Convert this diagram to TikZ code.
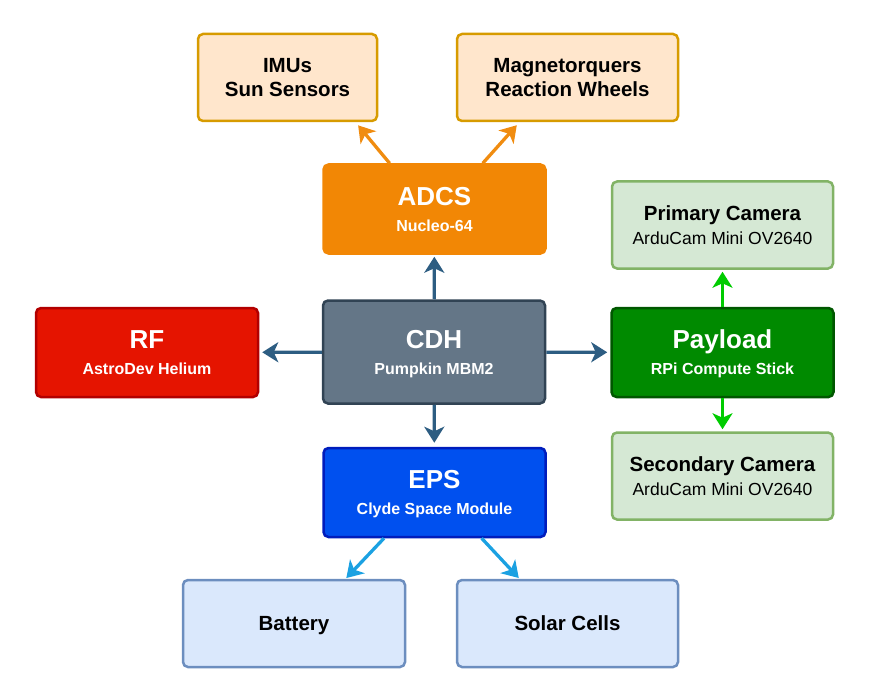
\documentclass[tikz,border=0pt]{standalone}
\usepackage{fontspec}
\setmainfont{Liberation Sans}
\usetikzlibrary{calc,arrows.meta}

\definecolor{leaforange}{HTML}{FFE6CC}
\definecolor{leaforangeline}{HTML}{D79B00}
\definecolor{adcsfill}{HTML}{F28705}
\definecolor{cdhfill}{HTML}{647687}
\definecolor{cdhline}{HTML}{314354}
\definecolor{rffill}{HTML}{E51400}
\definecolor{rfline}{HTML}{B20000}
\definecolor{payfill}{HTML}{008A00}
\definecolor{payline}{HTML}{005700}
\definecolor{epsfill}{HTML}{0050EF}
\definecolor{epsline}{HTML}{001DBC}
\definecolor{leafgreen}{HTML}{D5E8D4}
\definecolor{leafgreenline}{HTML}{82B366}
\definecolor{leafblue}{HTML}{DAE8FC}
\definecolor{leafblueline}{HTML}{6C8EBF}
\definecolor{busarrow}{HTML}{2D5D82}
\definecolor{adcsarrow}{HTML}{F08C10}
\definecolor{payarrow}{HTML}{00CC00}
\definecolor{epsarrow}{HTML}{1BA1E2}

\begin{document}
\begin{tikzpicture}[x=1pt,y=-1pt,
  box/.style={draw,rounded corners=5pt,line width=2.5pt,align=center,inner sep=0pt},
  subsys/.style={box,text=white,minimum width=222pt,minimum height=89pt,
    text depth=-1pt,font=\fontsize{16}{26}\selectfont\bfseries},
  leafbox/.style={box,minimum height=87pt,font=\fontsize{20.5}{24}\selectfont\bfseries},
  cambox/.style={box,fill=leafgreen,draw=leafgreenline,minimum width=221pt,
    minimum height=87pt,font=\fontsize{17.5}{24}\selectfont},
  link/.style={line width=3.3pt,-{Stealth[length=16pt,width=20pt,inset=4.5pt]}}]
\useasboundingbox (0,0) rectangle (884,698);

% subsystems
\node[subsys,fill=adcsfill,draw=adcsfill] (adcs) at (434.5,209) {{\fontsize{26}{26}\selectfont ADCS}\\Nucleo-64};
\node[subsys,fill=cdhfill,draw=cdhline,minimum height=103pt] (cdh) at (434,352) {{\fontsize{26}{26}\selectfont CDH}\\Pumpkin MBM2};
\node[subsys,fill=rffill,draw=rfline] (rf) at (147,352.5) {{\fontsize{26}{26}\selectfont RF}\\AstroDev Helium};
\node[subsys,fill=payfill,draw=payline] (pay) at (722.5,352.5) {{\fontsize{26}{26}\selectfont Payload}\\RPi Compute Stick};
\node[subsys,fill=epsfill,draw=epsline] (eps) at (434.5,492.5) {{\fontsize{26}{26}\selectfont EPS}\\Clyde Space Module};

% attached hardware
\node[leafbox,fill=leaforange,draw=leaforangeline,minimum width=179pt] (imu) at (287.5,77.5) {IMUs\\Sun Sensors};
\node[leafbox,fill=leaforange,draw=leaforangeline,minimum width=221pt] (mag) at (567.5,77.5) {Magnetorquers\\Reaction Wheels};
\node[cambox] (cam1) at (722.5,225) {{\fontsize{20.5}{24}\selectfont\bfseries Primary Camera}\\ArduCam Mini OV2640};
\node[cambox] (cam2) at (722.5,476) {{\fontsize{20.5}{24}\selectfont\bfseries Secondary Camera}\\ArduCam Mini OV2640};
\node[leafbox,fill=leafblue,draw=leafblueline,minimum width=222pt,text depth=0pt] (bat) at (294,623.5) {Battery};
\node[leafbox,fill=leafblue,draw=leafblueline,minimum width=221pt,text depth=0pt] (sol) at (567.5,623.5) {Solar Cells};

% bus links
\draw[link,busarrow,shorten >=2pt] (cdh) -- (adcs);
\draw[link,busarrow,shorten >=3pt] (cdh) -- (rf);
\draw[link,busarrow,shorten >=3pt] (cdh) -- (pay);
\draw[link,busarrow,shorten >=4pt] (cdh) -- (eps);

% adcs, payload and eps links
\draw[link,adcsarrow,shorten >=4pt] ($(adcs.north)!0.4!(adcs.north west)$) -- ($(imu.south)!0.75!(imu.south east)$);
\draw[link,adcsarrow,shorten >=4pt] ($(adcs.north)!0.43!(adcs.north east)$) -- ($(mag.south)!0.43!(mag.south west)$);
\draw[link,payarrow,shorten >=2pt] (pay) -- (cam1);
\draw[link,payarrow,shorten >=2pt] (pay) -- (cam2);
\draw[link,epsarrow,shorten >=1pt] ($(eps.south)!0.45!(eps.south west)$) -- ($(bat.north)!0.46!(bat.north east)$);
\draw[link,epsarrow,shorten >=1pt] ($(eps.south)!0.42!(eps.south east)$) -- ($(sol.north)!0.43!(sol.north west)$);
\end{tikzpicture}
\end{document}
